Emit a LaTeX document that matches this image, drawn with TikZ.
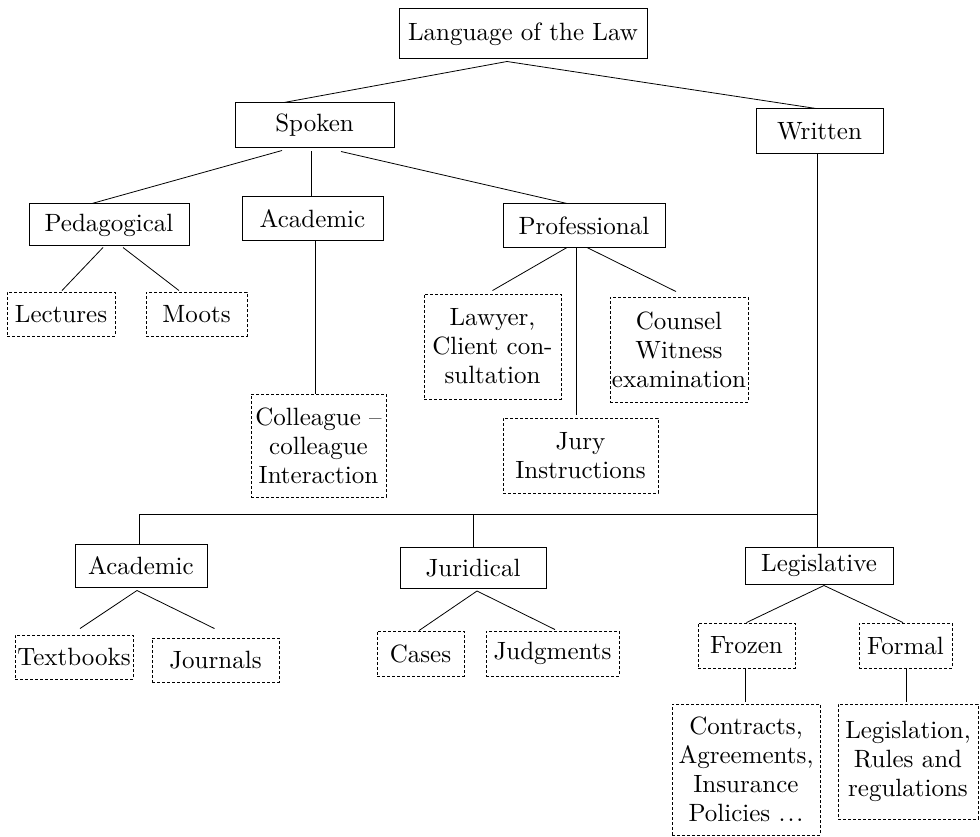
\documentclass[tikz,border=0pt]{standalone}
\usepackage{fontspec}
\setmainfont{lmroman10-regular}[Extension=.otf]
\usetikzlibrary{calc}
\begin{document}
\begin{tikzpicture}[x=1pt,y=-1pt,
  every node/.style={font=\fontsize{25}{29}\selectfont, align=center, inner sep=0pt},
  sbox/.style={draw, line width=1pt},
  dbox/.style={draw, line width=0.9pt, dash pattern=on 3pt off 2pt},
  conn/.style={line width=0.8pt}]
\useasboundingbox[fill=white] (0,0) rectangle (980,837);
% solid boxes
\node[sbox, minimum width=248pt, minimum height=50pt] (law) at (523,34) {Language of the Law};
\node[sbox, minimum width=159pt, minimum height=45pt] (spoken) at (314.5,125.5) {Spoken};
\node[sbox, minimum width=127pt, minimum height=45pt] (written) at (819.5,131.5) {Written};
\node[sbox, minimum width=160pt, minimum height=42pt] (ped) at (109,225) {Pedagogical};
\node[sbox, minimum width=141pt, minimum height=44pt] (acadA) at (312.5,219) {Academic};
\node[sbox, minimum width=162pt, minimum height=44pt] (prof) at (584,226) {Professional};
\node[sbox, minimum width=132pt, minimum height=43pt] (acadB) at (141,565.5) {Academic};
\node[sbox, minimum width=146pt, minimum height=41pt] (jur) at (473,568) {Juridical};
\node[sbox, minimum width=148pt, minimum height=37pt] (leg) at (819,565.5) {Legislative};
% dashed boxes
\node[dbox, minimum width=108pt, minimum height=44pt] (lect) at (61,314) {Lectures};
\node[dbox, minimum width=101pt, minimum height=44pt] (moots) at (196.5,314) {Moots};
\node[dbox, minimum width=135pt, minimum height=103pt] (coll) at (318.5,445.5) {Colleague \textendash\\colleague\\Interaction};
\node[dbox, minimum width=137pt, minimum height=105pt] (lawyer) at (492.5,346.5) {Lawyer,\\Client con-\\sultation};
\node[dbox, minimum width=138pt, minimum height=105pt] (counsel) at (679,349.5) {Counsel\\Witness\\examination};
\node[dbox, minimum width=155pt, minimum height=75pt] (jury) at (580.5,455.5) {Jury\\Instructions};
\node[dbox, minimum width=118pt, minimum height=44pt] (textb) at (74,657) {Textbooks};
\node[dbox, minimum width=127pt, minimum height=44pt] (journ) at (215.5,660) {Journals};
\node[dbox, minimum width=87pt, minimum height=45pt] (cases) at (420.5,653.5) {Cases};
\node[dbox, minimum width=133pt, minimum height=45pt] (judg) at (552.5,653.5) {Judgments};
\node[dbox, minimum width=97pt, minimum height=45pt] (frozen) at (746.5,645.5) {Frozen};
\node[dbox, minimum width=93pt, minimum height=45pt] (formal) at (905.5,645.5) {Formal};
\node[dbox, minimum width=148pt, minimum height=131pt] (contr) at (746,769.5) {Contracts,\\Agreements,\\Insurance\\Policies {.\kern2pt.\kern2pt.}};
\node[dbox, minimum width=140pt, minimum height=115pt] (legis) at (908,761.5) {Legislation,\\Rules and\\regulations};
% connectors
\draw[conn] ($(law.south)+(-16,2)$) -- ($(spoken.north)+(-30.5,0)$);
\draw[conn] ($(law.south)+(-16,2)$) -- ($(written.north)+(-3.5,0)$);
\draw[conn] ($(spoken.south)+(-32.5,2)$) -- ($(ped.north)+(-17,0)$);
\draw[conn] ($(spoken.south)+(-3.5,3)$) -- ($(acadA.north)+(-1.5,0)$);
\draw[conn] ($(spoken.south)+(26.5,3)$) -- ($(prof.north)+(-17,0)$);
\draw[conn] ($(ped.south)+(-6,1)$) -- ($(lect.north)+(1,-1)$);
\draw[conn] ($(ped.south)+(14,1)$) -- ($(moots.north)+(-17.5,-1)$);
\draw[conn] ($(acadA.south)+(2.5,0)$) -- ($(coll.north)+(-3.5,0)$);
\draw[conn] ($(prof.south)+(-17,-1)$) -- ($(lawyer.north)+(0,-3)$);
\draw[conn] ($(prof.south)+(-8,0)$) -- ($(jury.north)+(-4.5,-3)$);
\draw[conn] ($(prof.south)+(3,-1)$) -- ($(counsel.north)+(-3,-5)$);
\draw[conn] ($(written.south)+(-2.5,0)$) -- ($(leg.north)+(-2,0)$);
\coordinate (busR) at (817,514);
\coordinate (busL) at (139,514);
\draw[conn] (busL) -- (busR);
\draw[conn] (busL) -- ($(acadB.north)+(-2,0)$);
\draw[conn] (jur.north |- busR) -- (jur.north);
\draw[conn] ($(acadB.south)+(-4,3)$) -- ($(textb.north)+(6,-6)$);
\draw[conn] ($(acadB.south)+(-4,3)$) -- ($(journ.north)+(-1,-9)$);
\draw[conn] ($(jur.south)+(4,2)$) -- ($(cases.north)+(-1.5,0)$);
\draw[conn] ($(jur.south)+(4,2)$) -- ($(judg.north)+(2.5,-1)$);
\draw[conn] ($(leg.south)+(5,1)$) -- (frozen.north);
\draw[conn] ($(leg.south)+(5,1)$) -- ($(formal.north)+(-2.5,0)$);
\draw[conn] ($(frozen.south)+(-1.5,0)$) -- ($(contr.north)+(-1,-2)$);
\draw[conn] ($(formal.south)+(0.5,0)$) -- ($(legis.north)+(-2,-2)$);
\end{tikzpicture}
\end{document}
